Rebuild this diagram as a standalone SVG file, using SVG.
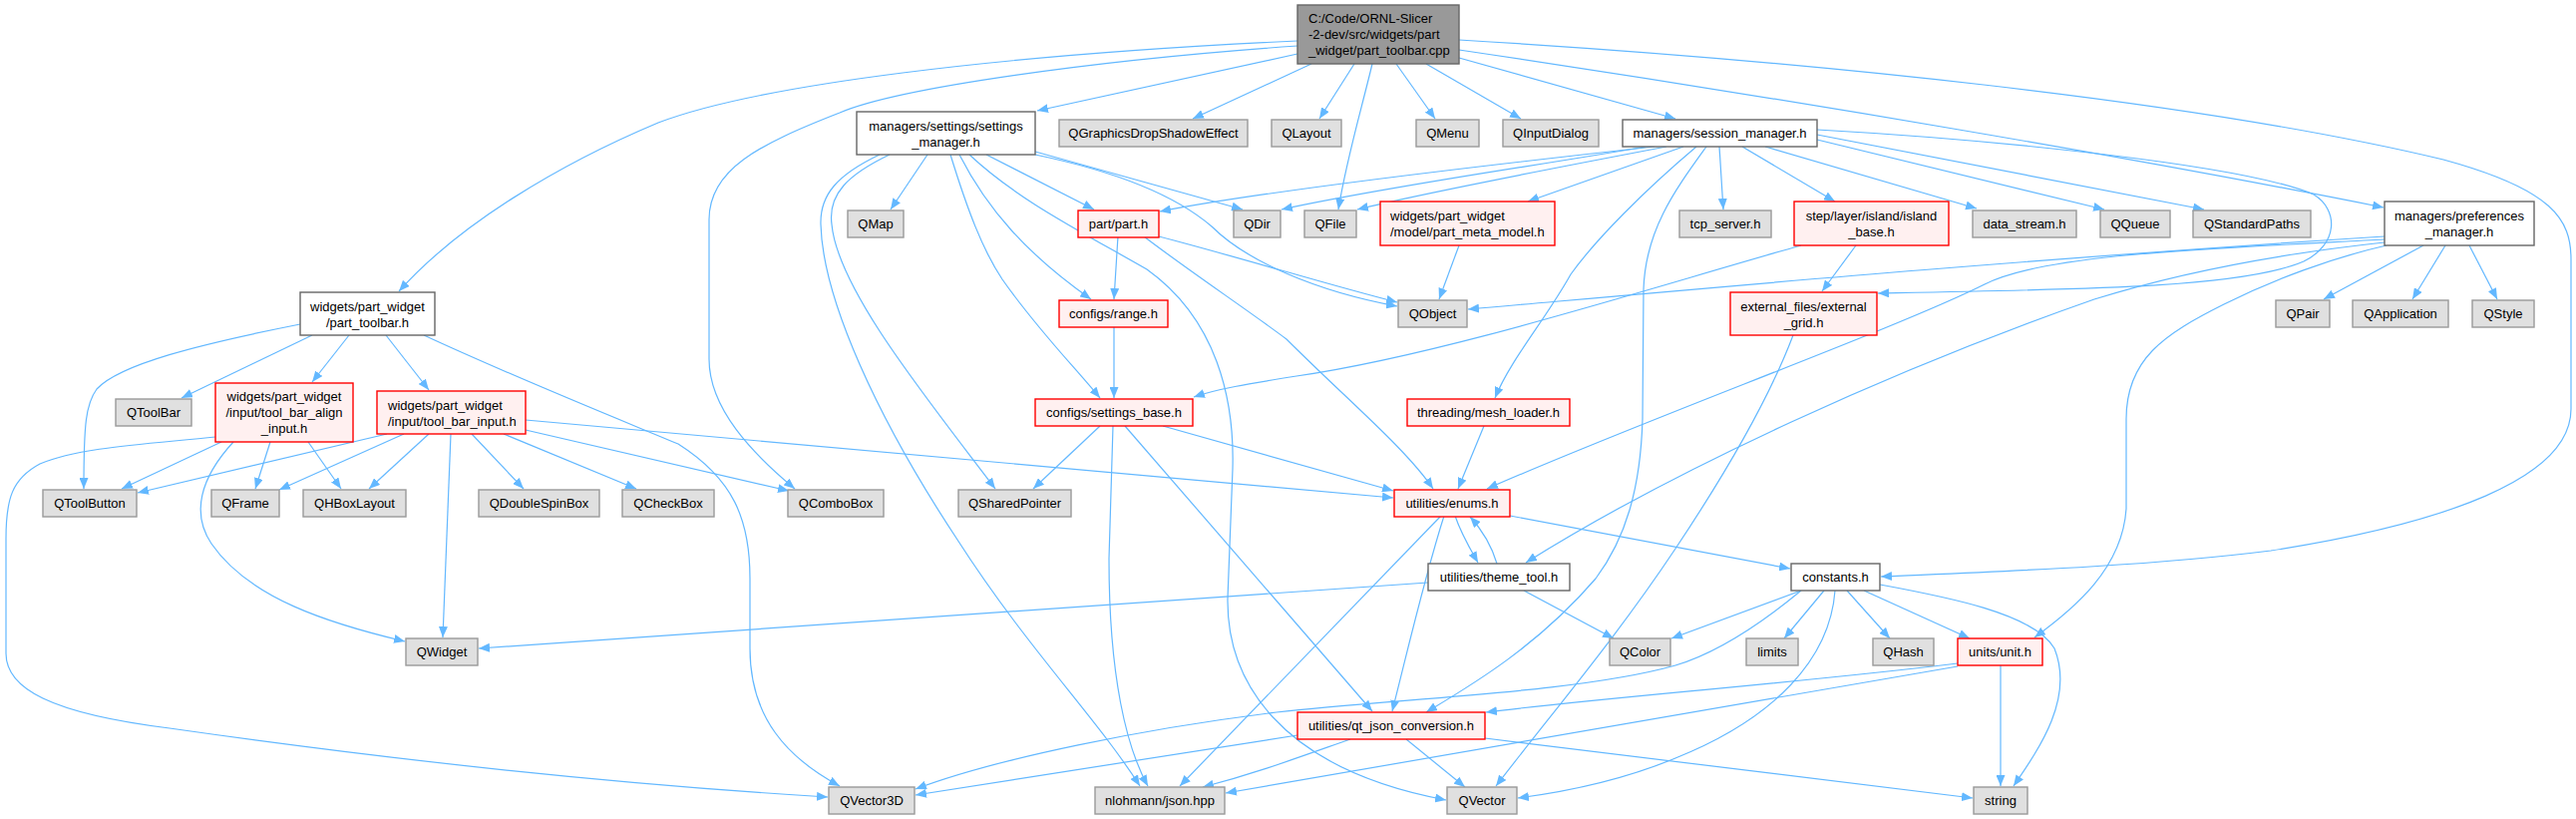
<svg xmlns="http://www.w3.org/2000/svg" width="2583" height="821" viewBox="0 0 2583 821">
<style>
text{font-family:"Liberation Sans",Arial,sans-serif;font-size:13px;fill:#000;text-anchor:middle}
text.l{text-anchor:start}
.g rect{fill:#E0E0E0;stroke:#999999;stroke-width:1.4}
.w rect{fill:#FFFFFF;stroke:#666666;stroke-width:1.4}
.r rect{fill:#FFF0F0;stroke:#FF0000;stroke-width:1.4}
.m rect{fill:#999999;stroke:#666666;stroke-width:1.4}
#edges path{fill:none;stroke:#63B8FF;stroke-width:1.2;marker-end:url(#ah)}
</style>
<defs>
<marker id="ah" markerWidth="11" markerHeight="9" refX="11" refY="4.5" orient="auto" markerUnits="userSpaceOnUse"><path d="M0,0 L11,4.5 L0,9 z" fill="#63B8FF"/></marker>
</defs>
<rect width="2583" height="821" fill="#FFFFFF"/>
<g id="edges">
<path d="M1301,41 C1000,55 760,85 660,123 C560,165 460,225 400,292"/>
<path d="M1301,46 C1100,60 900,88 842,113 C760,145 711,170 711,220 L711,360 C711,410 755,455 797,490"/>
<path d="M1301,54 L1040,111"/>
<path d="M1315,64 L1196,119"/>
<path d="M1358,64 L1323,119"/>
<path d="M1376,64 C1365,110 1350,160 1342,210"/>
<path d="M1400,64 L1439,119"/>
<path d="M1430,64 L1525,119"/>
<path d="M1463,58 L1680,119"/>
<path d="M1463,50 C1800,100 2150,160 2390,208"/>
<path d="M1463,40 C1800,60 2200,100 2450,160 C2560,190 2578,220 2578,260 L2578,410 C2578,480 2450,525 2277,552 C2150,568 2000,573 1886,578"/>
<path d="M301,325 C200,345 120,365 97,390 C86,405 84,425 84,490"/>
<path d="M313,336 L182,399"/>
<path d="M350,336 L313,383"/>
<path d="M387,336 L430,391"/>
<path d="M425,336 C520,380 620,420 680,445 C735,480 752,520 752,580 L752,650 C752,720 790,760 842,788"/>
<path d="M222,443 L122,490"/>
<path d="M271,443 L256,490"/>
<path d="M309,443 L342,490"/>
<path d="M234,443 C200,480 192,515 212,545 C250,600 330,625 406,643"/>
<path d="M216,438 C150,445 80,448 40,465 C12,480 6,500 6,540 L6,655 C6,690 50,715 170,730 C380,760 600,785 830,799"/>
<path d="M388,435 L138,494"/>
<path d="M405,435 L280,491"/>
<path d="M430,435 L370,490"/>
<path d="M452,435 L444,639"/>
<path d="M473,435 L525,490"/>
<path d="M505,435 L638,490"/>
<path d="M527,431 L791,492"/>
<path d="M527,421 L1397,499"/>
<path d="M930,155 L893,210"/>
<path d="M989,155 L1097,210"/>
<path d="M1038,152 L1246,210"/>
<path d="M1038,155 C1120,172 1180,197 1215,227 C1250,262 1320,292 1401,307"/>
<path d="M962,155 C990,210 1030,255 1094,300"/>
<path d="M953,155 C970,210 985,250 1005,280 C1040,330 1075,365 1103,399"/>
<path d="M892,155 C850,175 830,195 834,225 C840,290 930,400 998,490"/>
<path d="M882,155 C840,175 822,195 823,225 C825,300 880,420 960,541 C1030,650 1100,720 1143,788"/>
<path d="M972,155 C1020,200 1080,230 1150,270 C1220,320 1238,400 1236,470 L1231,600 C1230,680 1280,770 1450,802"/>
<path d="M1121,237 L1117,300"/>
<path d="M1162,237 C1250,260 1330,285 1401,303"/>
<path d="M1147,237 C1190,270 1250,310 1290,340 C1350,400 1410,450 1437,490"/>
<path d="M1117,328 L1117,399"/>
<path d="M1103,427 L1036,490"/>
<path d="M1116,427 L1112,560 C1112,680 1130,750 1151,788"/>
<path d="M1128,427 L1376,713"/>
<path d="M1166,427 L1397,492"/>
<path d="M1459,517 C1465,535 1474,550 1482,564"/>
<path d="M1501,565 C1495,545 1485,530 1474,518"/>
<path d="M1514,517 L1795,570"/>
<path d="M1445,517 L1183,788"/>
<path d="M1448,517 C1428,580 1412,650 1396,713"/>
<path d="M1432,584 L480,650"/>
<path d="M1528,592 L1618,640"/>
<path d="M1806,592 L1676,640"/>
<path d="M1829,592 L1789,640"/>
<path d="M1852,592 L1895,640"/>
<path d="M1869,592 L1975,640"/>
<path d="M1840,592 C1835,660 1780,720 1680,760 C1620,785 1560,795 1522,800"/>
<path d="M1885,586 C1950,598 2040,615 2060,650 C2080,700 2045,750 2019,788"/>
<path d="M1806,592 C1760,630 1720,655 1680,667 C1580,695 1400,700 1280,714 C1150,730 1000,760 918,791"/>
<path d="M1301,737 L918,797"/>
<path d="M1354,741 C1300,760 1260,775 1206,789"/>
<path d="M1410,741 L1469,789"/>
<path d="M1489,740 L1978,800"/>
<path d="M2006,667 L2006,788"/>
<path d="M1963,665 C1800,685 1600,700 1490,714"/>
<path d="M1963,668 L1229,795"/>
<path d="M1650,147 C1550,165 1400,185 1285,210"/>
<path d="M1671,147 C1550,170 1420,195 1361,210"/>
<path d="M1659,147 C1450,170 1250,195 1163,212"/>
<path d="M1688,147 L1532,202"/>
<path d="M1701,147 C1650,190 1600,240 1575,275 C1550,320 1515,360 1499,399"/>
<path d="M1711,147 C1680,190 1650,230 1648,290 L1647,420 C1645,490 1630,540 1600,580 C1540,650 1470,690 1430,714"/>
<path d="M1724,147 L1728,210"/>
<path d="M1747,147 L1840,202"/>
<path d="M1770,147 L1982,209"/>
<path d="M1822,140 L2110,210"/>
<path d="M1822,135 L2210,210"/>
<path d="M1822,130 C2000,140 2250,165 2320,195 C2345,210 2345,245 2310,262 C2250,288 2100,290 1883,294"/>
<path d="M2391,237 C2000,262 1700,290 1472,310"/>
<path d="M2391,240 C2200,250 2050,255 1990,285 C1900,330 1650,420 1491,490"/>
<path d="M2391,243 C2280,255 2180,275 2100,300 C1900,370 1680,470 1530,564"/>
<path d="M2393,246 C2340,258 2280,280 2230,305 C2170,335 2132,360 2132,420 L2132,510 C2128,570 2080,610 2040,639"/>
<path d="M2430,246 L2330,300"/>
<path d="M2452,246 L2419,300"/>
<path d="M2476,246 L2504,300"/>
<path d="M1806,246 C1650,290 1450,355 1300,377 C1250,385 1220,390 1197,398"/>
<path d="M1861,246 L1827,292"/>
<path d="M1798,336 C1770,410 1720,490 1680,550 C1620,640 1560,710 1500,788"/>
<path d="M1463,246 L1443,300"/>
<path d="M1488,427 L1462,490"/>
</g>
<g id="n_main" class="m"><rect x="1301" y="5" width="162" height="59"/><text class="l" x="1312" y="23">C:/Code/ORNL-Slicer</text><text class="l" x="1312" y="39">-2-dev/src/widgets/part</text><text class="l" x="1312" y="55">_widget/part_toolbar.cpp</text></g>
<g id="n_pth" class="w"><rect x="301" y="293" width="135" height="43"/><text x="368.5" y="312">widgets/part_widget</text><text x="368.5" y="328">/part_toolbar.h</text></g>
<g id="n_qtoolbar" class="g"><rect x="116" y="400" width="76" height="27"/><text x="154" y="418">QToolBar</text></g>
<g id="n_align" class="r"><rect x="216" y="384" width="138" height="59"/><text x="285" y="402">widgets/part_widget</text><text x="285" y="418">/input/tool_bar_align</text><text x="285" y="434">_input.h</text></g>
<g id="n_tbi" class="r"><rect x="378" y="392" width="149" height="43"/><text class="l" x="389" y="411">widgets/part_widget</text><text class="l" x="389" y="427">/input/tool_bar_input.h</text></g>
<g id="n_qtoolbutton" class="g"><rect x="43" y="491" width="94" height="27"/><text x="90" y="509">QToolButton</text></g>
<g id="n_qframe" class="g"><rect x="212" y="491" width="68" height="27"/><text x="246" y="509">QFrame</text></g>
<g id="n_qhbox" class="g"><rect x="304" y="491" width="103" height="27"/><text x="355.5" y="509">QHBoxLayout</text></g>
<g id="n_qdsb" class="g"><rect x="480" y="491" width="121" height="27"/><text x="540.5" y="509">QDoubleSpinBox</text></g>
<g id="n_qcheck" class="g"><rect x="624" y="491" width="92" height="27"/><text x="670" y="509">QCheckBox</text></g>
<g id="n_qcombo" class="g"><rect x="790" y="491" width="96" height="27"/><text x="838" y="509">QComboBox</text></g>
<g id="n_qshared" class="g"><rect x="961" y="491" width="113" height="27"/><text x="1017.5" y="509">QSharedPointer</text></g>
<g id="n_sm" class="w"><rect x="859" y="112" width="179" height="43"/><text x="948.5" y="131">managers/settings/settings</text><text x="948.5" y="147">_manager.h</text></g>
<g id="n_qgdse" class="g"><rect x="1062" y="120" width="189" height="27"/><text x="1156.5" y="138">QGraphicsDropShadowEffect</text></g>
<g id="n_qlayout" class="g"><rect x="1275" y="120" width="70" height="27"/><text x="1310" y="138">QLayout</text></g>
<g id="n_qmenu" class="g"><rect x="1420" y="120" width="63" height="27"/><text x="1451.5" y="138">QMenu</text></g>
<g id="n_qinput" class="g"><rect x="1507" y="120" width="96" height="27"/><text x="1555" y="138">QInputDialog</text></g>
<g id="n_session" class="w"><rect x="1627" y="120" width="195" height="27"/><text x="1724.5" y="138">managers/session_manager.h</text></g>
<g id="n_pref" class="w"><rect x="2391" y="202" width="150" height="44"/><text x="2466" y="221">managers/preferences</text><text x="2466" y="237">_manager.h</text></g>
<g id="n_qmap" class="g"><rect x="850" y="211" width="56" height="27"/><text x="878" y="229">QMap</text></g>
<g id="n_part" class="r"><rect x="1081" y="211" width="81" height="27"/><text x="1121.5" y="229">part/part.h</text></g>
<g id="n_qdir" class="g"><rect x="1237" y="211" width="47" height="27"/><text x="1260.5" y="229">QDir</text></g>
<g id="n_qfile" class="g"><rect x="1308" y="211" width="52" height="27"/><text x="1334" y="229">QFile</text></g>
<g id="n_pmm" class="r"><rect x="1384" y="202" width="175" height="44"/><text class="l" x="1394" y="221">widgets/part_widget</text><text class="l" x="1394" y="237">/model/part_meta_model.h</text></g>
<g id="n_tcp" class="g"><rect x="1684" y="211" width="92" height="27"/><text x="1730" y="229">tcp_server.h</text></g>
<g id="n_island" class="r"><rect x="1799" y="202" width="155" height="44"/><text x="1876.5" y="221">step/layer/island/island</text><text x="1876.5" y="237">_base.h</text></g>
<g id="n_ds" class="g"><rect x="1978" y="211" width="104" height="27"/><text x="2030" y="229">data_stream.h</text></g>
<g id="n_qqueue" class="g"><rect x="2106" y="211" width="70" height="27"/><text x="2141" y="229">QQueue</text></g>
<g id="n_qsp" class="g"><rect x="2199" y="211" width="118" height="27"/><text x="2258" y="229">QStandardPaths</text></g>
<g id="n_range" class="r"><rect x="1062" y="301" width="109" height="27"/><text x="1116.5" y="319">configs/range.h</text></g>
<g id="n_sbase" class="r"><rect x="1038" y="400" width="158" height="27"/><text x="1117" y="418">configs/settings_base.h</text></g>
<g id="n_qobject" class="g"><rect x="1402" y="301" width="69" height="27"/><text x="1436.5" y="319">QObject</text></g>
<g id="n_grid" class="r"><rect x="1735" y="293" width="147" height="43"/><text x="1808.5" y="312">external_files/external</text><text x="1808.5" y="328">_grid.h</text></g>
<g id="n_qpair" class="g"><rect x="2282" y="301" width="54" height="27"/><text x="2309" y="319">QPair</text></g>
<g id="n_qapp" class="g"><rect x="2359" y="301" width="96" height="27"/><text x="2407" y="319">QApplication</text></g>
<g id="n_qstyle" class="g"><rect x="2479" y="301" width="62" height="27"/><text x="2510" y="319">QStyle</text></g>
<g id="n_mesh" class="r"><rect x="1411" y="400" width="163" height="27"/><text x="1492.5" y="418">threading/mesh_loader.h</text></g>
<g id="n_enums" class="r"><rect x="1398" y="491" width="116" height="27"/><text x="1456" y="509">utilities/enums.h</text></g>
<g id="n_theme" class="w"><rect x="1432" y="565" width="142" height="27"/><text x="1503" y="583">utilities/theme_tool.h</text></g>
<g id="n_constants" class="w"><rect x="1796" y="565" width="89" height="27"/><text x="1840.5" y="583">constants.h</text></g>
<g id="n_qwidget" class="g"><rect x="407" y="640" width="72" height="27"/><text x="443" y="658">QWidget</text></g>
<g id="n_qcolor" class="g"><rect x="1614" y="640" width="61" height="27"/><text x="1644.5" y="658">QColor</text></g>
<g id="n_limits" class="g"><rect x="1751" y="640" width="52" height="27"/><text x="1777" y="658">limits</text></g>
<g id="n_qhash" class="g"><rect x="1878" y="640" width="61" height="27"/><text x="1908.5" y="658">QHash</text></g>
<g id="n_unit" class="r"><rect x="1963" y="640" width="85" height="27"/><text x="2005.5" y="658">units/unit.h</text></g>
<g id="n_qjson" class="r"><rect x="1301" y="714" width="188" height="27"/><text x="1395" y="732">utilities/qt_json_conversion.h</text></g>
<g id="n_qvec3d" class="g"><rect x="831" y="789" width="86" height="27"/><text x="874" y="807">QVector3D</text></g>
<g id="n_json" class="g"><rect x="1098" y="789" width="130" height="27"/><text x="1163" y="807">nlohmann/json.hpp</text></g>
<g id="n_qvector" class="g"><rect x="1451" y="789" width="70" height="27"/><text x="1486" y="807">QVector</text></g>
<g id="n_string" class="g"><rect x="1979" y="789" width="54" height="27"/><text x="2006" y="807">string</text></g>
</svg>
